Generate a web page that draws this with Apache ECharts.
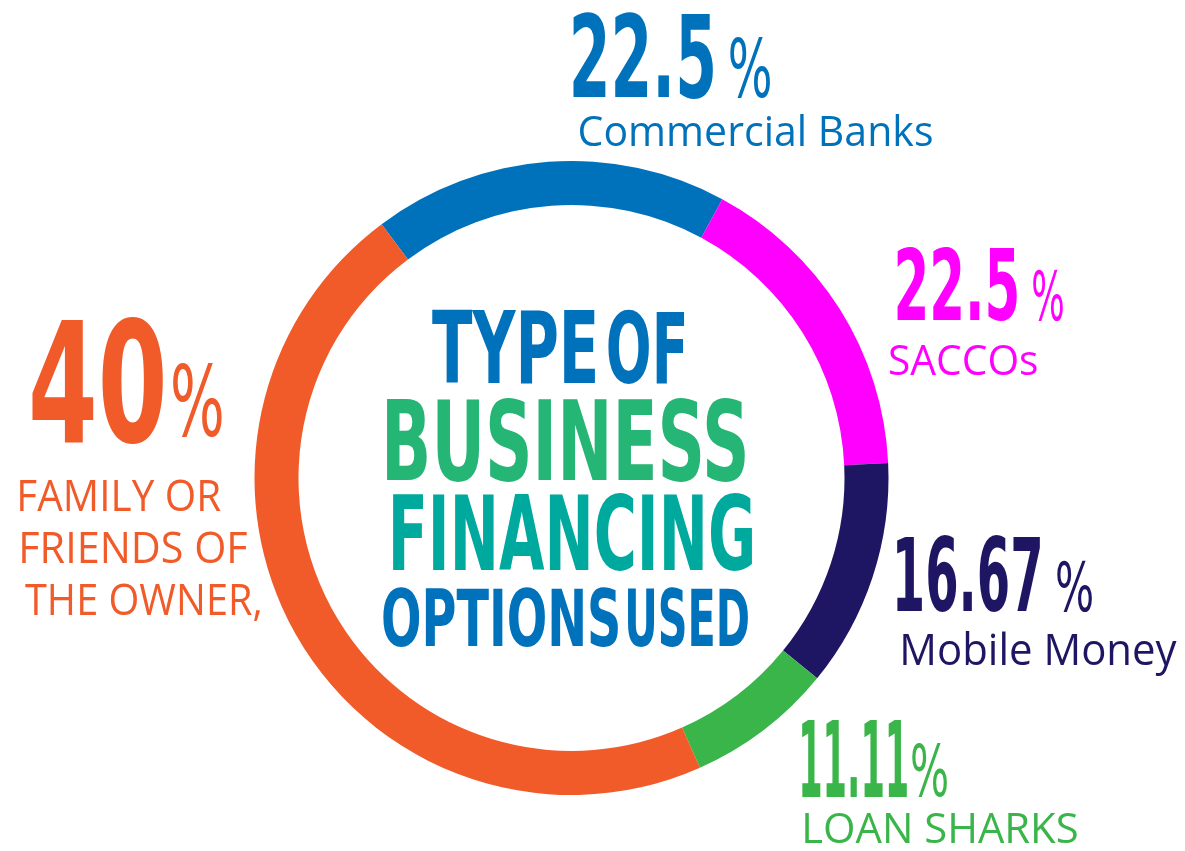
<!DOCTYPE html>
<html>
<head>
<meta charset="utf-8">
<title>Type of business financing options used</title>
<script src="https://cdn.jsdelivr.net/npm/echarts@6/dist/echarts.min.js"></script>
<style>
  html, body { margin: 0; padding: 0; background: #fff; }
  #chart { width: 1185px; height: 851px; }
</style>
</head>
<body>
<div id="chart"></div>
<script>
// financing sources, clockwise from the top-left of the ring
var categories = ['Commercial Banks', 'SACCOs', 'Mobile Money', 'LOAN SHARKS', 'FAMILY OR\nFRIENDS OF\nTHE OWNER,'];
// percentages printed beside each arc
var percentText = ['22.5', '22.5', '16.67', '11.11', '40'];
// arcs in the original are not to scale, so sizes are read off the ring (degrees)
var arcSize = [65.2, 58.9, 41.9, 26.9, 167.1];
var titleLines = ['TYPE OF', 'BUSINESS', 'FINANCING', 'OPTIONS USED'];

var colors = ['#0072BC', '#FF00FF', '#1E1662', '#3AB54A', '#F15A29'];
var titleColors = ['#0072BC', '#25B574', '#00A99D', '#0072BC'];

// ink boxes: [left, top, width, height]
var numBox = [[573, 13, 140, 85], [897, 248, 120, 73], [897, 535, 143, 77], [802, 720, 105, 77], [32, 316, 131, 128]];
var pctBox = [[730, 37, 40, 61], [1033, 270, 30, 51], [1057, 560, 35, 52], [912, 743, 35, 54], [173, 363, 49, 74]];
// one box per word of each title line (the title face is set tight)
var titleBox = [
    [[432, 309, 163, 75], [608, 309, 76, 75]],
    [[387, 397, 358, 84]],
    [[393, 493, 359, 78]],
    [[383, 587, 235, 60], [628, 587, 120, 60]]
];
// name lines: [left, baseline, width, capHeight]
var nameBox = [
    [[580, 146, 352, 31]],
    [[890, 375, 147, 31]],
    [[903, 665, 274, 32]],
    [[805, 843, 272, 30]],
    [[20, 511, 201, 32], [22, 563, 225, 32], [25, 615, 235, 32]]
];

var FONT_NUM = 'bold 100px "DejaVu Sans"';
var FONT_PCT = 'normal 100px "DejaVu Sans"';
var FONT_NAME = 'normal 100px "Open Sans"';

var ctx = document.createElement('canvas').getContext('2d');
function ink(text, font, baseline) {
    ctx.font = font;
    ctx.textAlign = 'left';
    ctx.textBaseline = baseline;
    return ctx.measureText(text);
}

function txt(text, font, color, x, y, sx, sy) {
    return {
        type: 'text', x: x, y: y, scaleX: sx, scaleY: sy, silent: true, z: 10,
        style: {
            text: text, font: font, fill: color,
            align: 'left', verticalAlign: 'middle',
            textAlign: 'left', textVerticalAlign: 'middle'
        }
    };
}

// stretch the glyph ink into a box
function boxText(text, font, color, b) {
    var m = ink(text, font, 'middle');
    var w = m.actualBoundingBoxLeft + m.actualBoundingBoxRight;
    var h = m.actualBoundingBoxAscent + m.actualBoundingBoxDescent;
    var sx = b[2] / w, sy = b[3] / h;
    return txt(text, font, color, b[0] + sx * m.actualBoundingBoxLeft, b[1] + sy * m.actualBoundingBoxAscent, sx, sy);
}

// one line of normal text: cap height sets size, width sets squeeze
function lineText(text, font, color, b) {
    var hm = ink('H', font, 'middle');
    var ha = ink('H', font, 'alphabetic');
    var m = ink(text, font, 'middle');
    var s = b[3] / ha.actualBoundingBoxAscent;
    var w = m.actualBoundingBoxLeft + m.actualBoundingBoxRight;
    var sx = b[2] / w;
    var y = b[1] - s * (ha.actualBoundingBoxAscent - hm.actualBoundingBoxAscent);
    return txt(text, font, color, b[0] + sx * m.actualBoundingBoxLeft, y, sx, s);
}

var elements = [];
for (var i = 0; i < categories.length; i++) {
    elements.push(boxText(percentText[i], FONT_NUM, colors[i], numBox[i]));
    elements.push(boxText('%', FONT_PCT, colors[i], pctBox[i]));
    var lines = categories[i].split('\n');
    for (var j = 0; j < lines.length; j++) {
        elements.push(lineText(lines[j], FONT_NAME, colors[i], nameBox[i][j]));
    }
}
for (var k = 0; k < titleLines.length; k++) {
    var words = titleLines[k].split(' ');
    for (var w = 0; w < words.length; w++) {
        elements.push(boxText(words[w], FONT_NUM, titleColors[k], titleBox[k][w]));
    }
}

var chart = echarts.init(document.getElementById('chart'));
var option = {
    backgroundColor: '#fff',
    animation: false,
    series: [{
        type: 'pie',
        center: [571.5, 478],
        radius: [273, 317],
        startAngle: 126.8,
        clockwise: true,
        silent: true,
        label: { show: false },
        labelLine: { show: false },
        itemStyle: { borderWidth: 0 },
        data: categories.map(function (c, i) {
            return { name: c, value: arcSize[i], itemStyle: { color: colors[i] } };
        })
    }],
    graphic: { elements: elements }
};
chart.setOption(option);
</script>
</body>
</html>
